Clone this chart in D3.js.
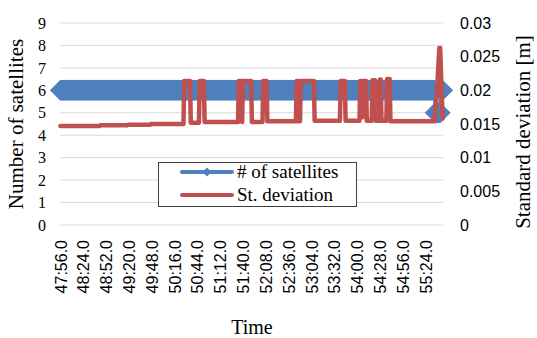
<!DOCTYPE html>
<html><head><meta charset="utf-8">
<script src="https://cdn.jsdelivr.net/npm/d3@7"></script>
<style>html,body{margin:0;padding:0;background:#fff;}svg{display:block;}</style>
</head><body>
<svg id="c" width="537" height="338"></svg>
<script>
// ---- data ----
const nSamples = 470;                 // 1-second samples starting 47:56.0
const tickEvery = 28;
const tickLabels = ["47:56.0","48:24.0","48:52.0","49:20.0","49:48.0","50:16.0","50:44.0","51:12.0",
  "51:40.0","52:08.0","52:36.0","53:04.0","53:32.0","54:00.0","54:28.0","54:56.0","55:24.0"];
const leftTicks = [0,1,2,3,4,5,6,7,8,9];
const rightTicks = [0,0.005,0.01,0.015,0.02,0.025,0.03];
const rightTickLabels = ["0","0.005","0.01","0.015","0.02","0.025","0.03"];
// number of satellites: runs (start sample index, value)
const satRunStart = [0, 460, 467];
const satRunValue = [6, 5, 6];
// standard deviation breakpoints (sample index, value in m)
const sdIndex = [0,48,49,82,83,110,111,151,
  152,159,160,170,171,176,177,
  218,219,222,223,224,234,235,
  248,249,253,254,
  289,290,292,293,294,295,311,312,
  343,344,349,350,
  367,368,370,371,372,375,376,
  382,383,386,387,
  391,392,393,394,
  400,401,404,405,
  455,459,462,465,466,469];
const sdValue = [0.0147,0.0147,0.0148,0.0148,0.0149,0.0149,0.0150,0.0150,
  0.0214,0.0214,0.0152,0.0152,0.0214,0.0214,0.0153,
  0.0153,0.0214,0.0214,0.0153,0.0214,0.0214,0.0153,
  0.0153,0.0214,0.0214,0.0154,
  0.0154,0.0214,0.0214,0.0154,0.0154,0.0214,0.0214,0.0155,
  0.0155,0.0214,0.0214,0.0155,
  0.0155,0.0214,0.0214,0.0160,0.0214,0.0214,0.0155,
  0.0155,0.0215,0.0215,0.0155,
  0.0155,0.0216,0.0216,0.0155,
  0.0155,0.0217,0.0217,0.0154,
  0.0154,0.0154,0.0195,0.0263,0.0263,0.0158];
const seriesNames = ["# of satellites", "St. deviation"];
const colors = ["#4F81BD", "#C0504D"];

// ---- layout ----
const svg = d3.select("#c");
const L = 60, R = 443, T = 23, B = 225;
const serif = "'Liberation Serif', 'Times New Roman', serif";
const sans = "'Liberation Sans', Arial, sans-serif";

const x = d3.scaleLinear().domain([-0.5, nSamples - 0.5]).range([L, R]);
const yL = d3.scaleLinear().domain([0, 9]).range([B, T]);
const yR = d3.scaleLinear().domain([0, 0.03]).range([B, T]);

// gridlines
svg.append("g").selectAll("line").data(leftTicks).join("line")
  .attr("x1", L).attr("x2", R).attr("y1", d => yL(d)).attr("y2", d => yL(d))
  .attr("stroke", "#d9d9d9").attr("stroke-width", 1);

// left axis
const gl = svg.append("g").attr("transform", `translate(${L},0)`)
  .call(d3.axisLeft(yL).tickValues(leftTicks).tickSize(0).tickPadding(14).tickFormat(d3.format("d")));
gl.select(".domain").remove();
gl.selectAll("text").attr("font-family", serif).attr("font-size", 16).attr("fill", "#000");

// right axis
const gr = svg.append("g").attr("transform", `translate(${R},0)`)
  .call(d3.axisRight(yR).tickValues(rightTicks).tickSize(0).tickPadding(17).tickFormat((d, i) => rightTickLabels[i]));
gr.select(".domain").remove();
gr.selectAll("text").attr("font-family", sans).attr("font-size", 16).attr("fill", "#000");

// x axis labels
const tickIdx = tickLabels.map((d, i) => i * tickEvery);
const gx = svg.append("g").attr("transform", `translate(0,${B})`)
  .call(d3.axisBottom(x).tickValues(tickIdx).tickSize(0).tickFormat((d, i) => tickLabels[i]));
gx.select(".domain").remove();
gx.selectAll("text").attr("font-family", sans).attr("font-size", 16).attr("fill", "#000")
  .attr("text-anchor", "end").attr("transform", "translate(0,15) rotate(-90)")
  .attr("x", 0).attr("y", 0).attr("dy", "0.35em");

// satellites series: line + diamond markers
const satPoints = [];
for (let r = 0; r < satRunStart.length; r++) {
  const end = r + 1 < satRunStart.length ? satRunStart[r + 1] : nSamples;
  for (let i = satRunStart[r]; i < end; i++) satPoints.push([i, satRunValue[r]]);
}
const lineSat = d3.line().x(d => x(d[0])).y(d => yL(d[1]));
svg.append("path").datum(satPoints).attr("d", lineSat).attr("fill", "none")
  .attr("stroke", colors[0]).attr("stroke-width", 3.5);
const dm = 10.5;
const diamond = (cx, cy, s) => `M${cx},${cy - s}L${cx + s},${cy}L${cx},${cy + s}L${cx - s},${cy}Z`;
svg.append("g").selectAll("path").data(satPoints).join("path")
  .attr("d", d => diamond(x(d[0]), yL(d[1]), dm)).attr("fill", colors[0]);

// std deviation series
const sdPoints = sdIndex.map((d, i) => [d, sdValue[i]]);
const lineSd = d3.line().x(d => x(d[0])).y(d => yR(d[1]));
svg.append("path").datum(sdPoints).attr("d", lineSd).attr("fill", "none")
  .attr("stroke", colors[1]).attr("stroke-width", 4.5)
  .attr("stroke-linejoin", "round").attr("stroke-linecap", "round");

// axis titles
svg.append("text").attr("x", 252).attr("y", 334).attr("text-anchor", "middle")
  .attr("font-family", serif).attr("font-size", 20).text("Time");
svg.append("text").attr("transform", `translate(23,${(T + B) / 2}) rotate(-90)`).attr("text-anchor", "middle")
  .attr("font-family", serif).attr("font-size", 21).text("Number of satellites");
svg.append("text").attr("transform", `translate(530,${(T + B) / 2 + 8}) rotate(-90)`).attr("text-anchor", "middle")
  .attr("font-family", serif).attr("font-size", 21).text("Standard deviation  [m]");

// legend
const lg = svg.append("g");
lg.append("rect").attr("x", 158.5).attr("y", 162.5).attr("width", 198).attr("height", 44)
  .attr("fill", "#fff").attr("stroke", "#404040").attr("stroke-width", 1);
const legY = [172, 195];
seriesNames.forEach((name, i) => {
  lg.append("line").attr("x1", 182).attr("x2", 232).attr("y1", legY[i]).attr("y2", legY[i])
    .attr("stroke", colors[i]).attr("stroke-width", 4).attr("stroke-linecap", "round");
  if (i === 0) lg.append("path").attr("d", diamond(207, legY[i], 4.5)).attr("fill", colors[i]);
  lg.append("text").attr("x", 237).attr("y", legY[i] + 6).attr("font-family", serif)
    .attr("font-size", 19).text(name);
});
</script>
</body></html>
